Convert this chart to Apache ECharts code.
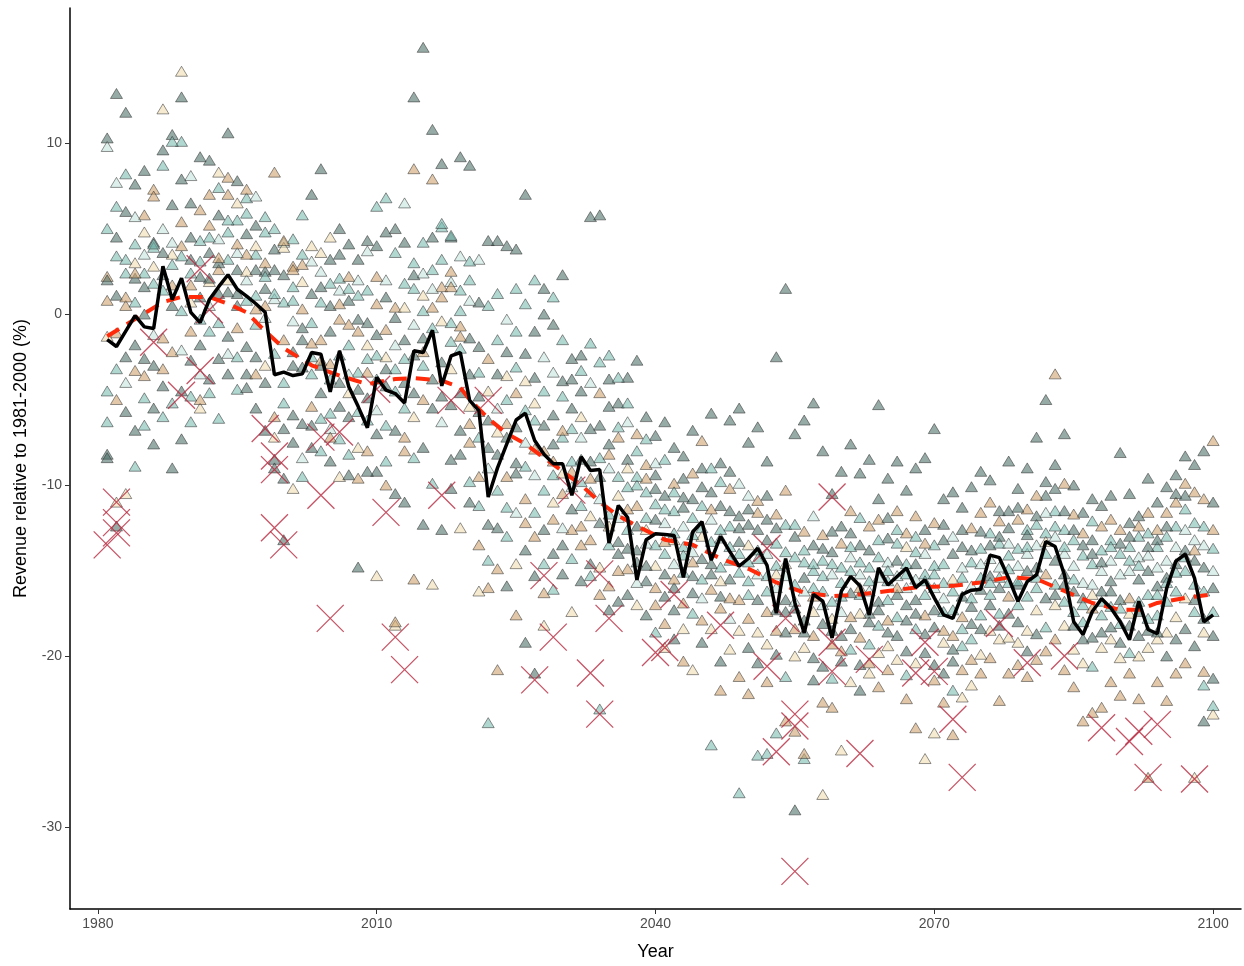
<!DOCTYPE html>
<html>
<head>
<meta charset="utf-8">
<title>Revenue relative to 1981-2000</title>
<script src="https://cdn.jsdelivr.net/npm/echarts@6/dist/echarts.min.js"></script>
<style>
  body { margin: 0; padding: 0; background: #fff; }
  #chart { width: 1244px; height: 966px; }
</style>
</head>
<body>
<div id="chart"></div>
<script>
// one row per year (1981..2100), one column per model run
const revenue = [
  [10.3, 5.0, -8.2, 2.2, 9.8, -6.3, 2.0, -1.3, -4.5, -8.4, 0.8],
  [12.9, 6.3, -12.4, -1.1, 7.7, 3.4, 1.1, -11.0, -3.2, 4.5, -5.0],
  [11.8, 3.2, -5.7, 0.5, -4.0, 8.2, -2.5, -10.5, 2.4, 6.0, 1.0],
  [2.1, 4.1, 7.6, -3.3, 5.7, -8.9, -1.8, 3.0, 0.7, -6.8, 2.4],
  [8.4, -4.9, 1.6, 5.8, 3.5, 2.4, -2.6, 4.8, -6.5, 0.0, -3.6],
  [4.2, 3.9, -5.5, 7.3, -1.2, 1.8, -7.6, 2.8, 4.1, -3.0, 6.9],
  [9.6, 8.7, 2.3, -3.2, 5.0, 1.4, -4.2, 12.0, -6.0, 3.6, -1.4],
  [10.5, 2.9, 6.4, -2.2, 4.2, 10.1, 0.5, 3.5, -5.2, -9.0, 1.7],
  [12.7, 10.1, -4.5, 5.4, -2.1, 3.4, 7.9, 14.2, 0.2, -7.3, 4.0],
  [6.5, 2.4, -2.7, -1.0, 8.1, -4.8, 3.2, 0.7, -6.3, 4.5, 1.7],
  [9.2, 4.3, 1.0, 6.1, -3.5, -0.3, 2.2, -5.5, 3.1, -1.8, -5.0],
  [9.0, -1.0, 3.6, 5.2, 0.5, 4.5, -3.8, 1.9, -4.6, 2.1, 7.0],
  [5.8, 7.4, -2.6, 2.6, 4.4, -0.5, 1.2, 8.3, -6.1, 3.0, 3.3],
  [10.6, 3.2, 1.3, 7.0, -2.3, 4.8, -3.5, 2.0, 5.5, -1.3, 8.0],
  [7.8, 5.5, 2.6, -0.8, 3.6, -4.4, 1.2, 6.5, -2.5, 0.5, 4.1],
  [4.7, 6.8, -1.9, 3.5, 2.0, 5.9, -4.3, 2.5, 0.8, -3.5, 7.3],
  [5.2, 3.5, -2.5, 0.3, 6.9, 1.1, -5.5, 4.0, -0.6, 2.6, -3.5],
  [2.5, 4.8, -6.8, 3.0, -0.2, 2.2, 1.5, -3.0, 5.7, -4.0, 0.5],
  [3.8, 5.0, -8.5, -6.0, 0.9, -2.3, 2.6, -7.2, 1.2, -9.0, 8.3],
  [2.3, -4.0, -13.2, -1.5, 4.2, 0.7, -6.7, 3.9, -5.2, -9.6, 4.3],
  [-3.0, 1.6, -7.5, 2.8, -0.4, 4.4, -5.9, -10.2, 0.8, -2.2, 2.6],
  [-1.5, 3.5, -6.4, 0.3, -8.4, 5.8, -3.1, 1.9, -9.5, -0.8, 2.9],
  [7.0, -2.5, 1.2, -5.4, 3.1, -0.5, -7.8, 4.0, -3.5, -6.5, -1.7],
  [8.5, 0.7, -4.6, -1.5, 2.5, -8.0, -3.0, 3.6, -6.1, 1.6, -2.7],
  [3.2, -5.8, 0.5, -2.9, -6.7, 1.8, -1.0, 4.5, -3.8, -8.6, -7.2],
  [5.0, 2.1, -4.0, -0.3, 1.4, -7.3, 3.5, -9.5, -2.4, -5.4, 0.6],
  [0.8, -1.8, -6.0, 2.2, -3.5, -8.2, 4.1, -4.6, 1.5, -9.4, -0.6],
  [3.2, -3.4, -14.8, -1.0, 2.0, -5.7, -0.3, -7.8, 1.1, -4.4, -9.6],
  [-0.5, 1.4, -4.9, -8.0, 3.7, -2.6, -9.2, -1.8, -6.2, 4.3, -3.4],
  [4.0, -2.4, -9.2, 0.6, -5.6, 6.3, -1.2, -15.3, -3.8, -7.0, 2.2],
  [4.8, 6.8, -4.2, -0.9, 2.0, -6.5, 1.0, -2.5, -8.6, -3.2, -10.0],
  [5.0, -3.2, -10.5, 0.4, -1.8, 3.6, -6.8, -18.2, -4.5, -0.2, -18.0],
  [4.2, 1.8, -4.0, -7.2, 6.5, -2.6, -11.0, 0.4, -5.5, -1.5, -8.0],
  [12.7, 3.0, -2.4, 8.5, -0.6, 1.5, -4.6, -6.0, -8.4, 2.3, -15.5],
  [15.6, 4.2, -1.4, -5.0, 2.4, 0.2, -12.3, 1.1, -3.0, -7.8, -2.2],
  [10.8, -0.8, 4.5, 7.9, 1.5, 2.6, -3.8, -15.8, -9.9, -5.5, 0.4],
  [8.8, 5.1, -2.8, 1.6, -6.3, 5.3, -4.8, -0.4, 3.2, -12.6, 1.0],
  [4.5, -1.6, -5.3, 2.5, 1.9, 4.6, -8.5, -3.2, -0.5, -10.2, 1.6],
  [9.2, -2.0, -6.8, -0.7, 3.4, 1.4, -4.6, -12.5, 0.2, -8.2, -1.3],
  [8.7, 2.0, -3.5, -6.4, 0.8, -9.8, -1.4, -5.4, 3.1, -11.0, -7.5],
  [0.7, -3.4, -5.7, -9.5, 3.2, -7.2, -1.9, -16.2, -11.2, -4.8, -13.5],
  [4.3, -23.9, -6.2, -2.6, -9.0, 0.5, -12.3, -4.5, -14.4, -7.8, -16.0],
  [4.3, -1.5, -8.2, -20.8, -5.5, -10.3, -3.5, -6.9, 1.2, -12.5, -14.9],
  [4.0, -5.0, -2.2, -9.5, -0.3, -13.0, -7.2, -3.6, -11.3, -15.9, -6.4],
  [3.8, -1.0, -8.7, -4.6, -11.6, 1.5, -6.6, -14.6, -3.1, -9.3, -17.6],
  [7.0, -5.6, -2.3, -10.8, -7.5, 0.6, -13.8, -3.9, -8.9, -19.2, -12.2],
  [-1.0, -6.2, -3.7, -13.0, -9.4, 2.0, -15.3, -5.2, -11.6, -21.0, -7.9],
  [1.5, -4.5, -12.6, -8.0, -2.5, -14.6, -6.5, -18.2, -10.3, 0.0, -16.3],
  [-0.6, -9.4, -5.9, -12.0, -3.4, -16.1, -7.6, -11.0, 1.0, -14.0, -8.6],
  [2.3, -7.2, -3.9, -10.5, -12.5, -4.8, -15.2, -9.3, -1.5, -13.5, -6.8],
  [-2.6, -8.6, -5.5, -12.6, -10.1, -14.3, -3.8, -17.4, -6.7, -11.4, -9.2],
  [-4.5, -9.8, -2.4, -13.5, -7.2, -11.2, -15.6, -6.0, -3.3, -8.5, -12.4],
  [5.7, -10.4, -6.7, -13.2, -4.0, -15.3, -8.6, -11.8, -1.7, -14.6, -9.6],
  [5.8, -8.4, -12.2, -4.6, -10.8, -23.1, -6.5, -14.8, -2.8, -9.5, -16.4],
  [-3.8, -11.7, -7.6, -15.9, -9.0, -13.5, -5.4, -12.4, -2.4, -17.3, -8.2],
  [-5.2, -9.5, -14.0, -7.2, -11.9, -3.7, -16.8, -10.6, -6.6, -13.3, -15.0],
  [-3.7, -12.6, -8.5, -14.9, -6.3, -10.1, -16.4, -9.0, -5.2, -13.7, -11.4],
  [-2.7, -10.0, -13.8, -7.0, -15.7, -9.5, -12.4, -17.0, -8.0, -14.5, -11.2],
  [-6.0, -11.9, -15.6, -8.8, -13.4, -10.4, -17.6, -12.6, -7.3, -14.7, -9.6],
  [-7.1, -13.5, -10.2, -16.0, -8.7, -18.6, -12.0, -14.7, -11.1, -9.4, -17.0],
  [-6.3, -14.0, -10.6, -18.1, -12.2, -8.5, -16.5, -19.5, -11.4, -15.2, -13.3],
  [-7.8, -12.8, -16.0, -9.9, -14.6, -11.5, -19.0, -13.2, -10.4, -17.3, -15.5],
  [-8.3, -13.6, -10.7, -16.9, -12.4, -15.1, -9.6, -18.4, -14.1, -11.3, -20.3],
  [-6.8, -11.9, -15.3, -9.3, -13.9, -17.5, -10.8, -20.8, -12.9, -16.3, -14.5],
  [-9.0, -12.5, -14.3, -7.4, -16.6, -11.2, -19.2, -13.0, -15.5, -10.1, -17.9],
  [-5.8, -13.3, -10.4, -16.1, -12.0, -25.2, -14.6, -18.4, -9.0, -15.2, -11.4],
  [-8.7, -14.8, -11.2, -17.2, -13.1, -9.8, -20.3, -15.6, -12.6, -16.5, -22.0],
  [-6.2, -12.4, -15.5, -10.2, -17.8, -13.6, -9.2, -19.6, -14.4, -11.5, -16.6],
  [-5.5, -14.0, -11.8, -16.7, -9.9, -28.0, -13.3, -18.5, -15.1, -12.5, -21.2],
  [-7.5, -15.6, -12.3, -17.8, -10.6, -14.5, -19.5, -13.5, -16.4, -11.4, -22.2],
  [-6.6, -13.8, -16.7, -10.9, -15.2, -25.8, -12.6, -18.6, -14.3, -20.4, -11.6],
  [-8.6, -15.3, -12.0, -17.4, -14.0, -25.7, -10.6, -19.3, -16.2, -13.2, -21.5],
  [-2.5, -14.7, -17.3, -11.7, -16.0, -13.4, -19.9, -15.2, -24.5, -12.5, -18.5],
  [1.5, -13.9, -16.7, -10.3, -15.3, -12.3, -18.6, -14.6, -21.2, -17.4, -23.8],
  [-7.0, -15.8, -13.0, -18.4, -16.8, -14.2, -29.0, -20.0, -12.3, -17.2, -24.4],
  [-6.2, -14.5, -17.9, -12.7, -16.2, -26.0, -15.4, -19.5, -13.8, -18.6, -25.7],
  [-5.2, -16.0, -13.5, -18.8, -11.8, -15.0, -21.4, -17.4, -14.6, -20.1, -16.5],
  [-8.0, -15.3, -18.1, -12.9, -17.0, -14.4, -20.6, -28.1, -16.2, -13.7, -22.7],
  [-10.5, -16.8, -13.9, -19.3, -15.2, -21.3, -12.7, -17.8, -14.6, -18.5, -23.0],
  [-9.2, -15.7, -18.8, -13.4, -17.4, -14.8, -20.3, -25.5, -16.5, -12.4, -19.7],
  [-7.6, -15.0, -12.8, -17.7, -14.2, -19.6, -16.3, -21.5, -13.6, -18.4, -11.5],
  [-9.3, -16.4, -13.5, -18.9, -15.2, -11.9, -20.5, -17.5, -14.5, -22.0, -16.0],
  [-8.5, -14.8, -17.5, -12.4, -16.2, -19.3, -13.8, -21.0, -15.6, -18.0, -20.4],
  [-5.3, -14.2, -16.8, -12.0, -15.4, -18.2, -10.8, -19.8, -13.2, -17.3, -21.8],
  [-9.6, -15.6, -13.1, -17.9, -14.5, -16.7, -11.9, -19.4, -15.0, -18.6, -20.8],
  [-8.6, -13.4, -16.4, -11.5, -15.3, -17.7, -14.4, -20.2, -12.6, -18.8, -16.0],
  [-10.3, -14.6, -17.0, -12.8, -16.0, -15.2, -19.7, -13.6, -21.1, -17.9, -22.5],
  [-9.0, -13.9, -16.7, -11.8, -15.5, -18.4, -14.6, -20.4, -13.0, -17.5, -24.2],
  [-8.4, -15.2, -12.6, -17.6, -14.0, -16.4, -19.8, -26.0, -15.6, -18.7, -13.4],
  [-6.7, -14.7, -17.3, -12.2, -16.0, -13.5, -20.5, -24.5, -15.2, -18.3, -21.4],
  [-10.8, -15.7, -13.2, -18.5, -16.6, -14.6, -21.0, -19.2, -17.4, -12.3, -22.7],
  [-10.4, -16.2, -14.0, -18.8, -13.0, -17.3, -20.3, -15.5, -22.0, -19.6, -24.6],
  [-11.3, -15.4, -13.6, -17.7, -14.8, -19.4, -16.5, -22.4, -18.4, -12.6, -20.8],
  [-10.1, -14.5, -17.1, -12.5, -15.9, -19.0, -13.8, -21.7, -16.6, -18.1, -20.2],
  [-9.2, -13.7, -16.1, -11.6, -14.6, -17.6, -12.7, -19.9, -15.4, -18.4, -21.0],
  [-9.7, -12.8, -15.3, -11.0, -14.3, -16.4, -13.5, -18.5, -15.7, -17.0, -20.1],
  [-11.5, -13.4, -16.0, -12.1, -14.8, -17.5, -13.0, -19.0, -15.4, -18.2, -22.6],
  [-8.6, -14.1, -12.5, -16.5, -13.4, -15.7, -11.5, -18.9, -14.9, -17.5, -21.0],
  [-10.2, -13.7, -15.8, -12.0, -14.7, -17.0, -11.3, -19.2, -15.6, -18.0, -20.5],
  [-9.0, -12.6, -15.0, -11.4, -14.0, -16.5, -12.9, -18.5, -13.6, -19.7, -21.2],
  [-7.2, -12.3, -14.8, -10.6, -13.5, -16.0, -11.8, -17.3, -15.4, -18.7, -20.2],
  [-5.0, -12.8, -10.6, -15.2, -11.6, -14.0, -16.6, -13.3, -18.3, -9.8, -19.7],
  [-8.8, -11.5, -14.4, -3.5, -13.0, -15.8, -10.2, -17.0, -12.4, -16.4, -19.0],
  [-7.0, -12.6, -15.2, -9.9, -14.0, -16.8, -11.5, -18.2, -13.6, -15.8, -20.8],
  [-10.0, -13.2, -16.2, -11.7, -14.7, -17.4, -12.6, -19.6, -15.5, -18.2, -21.8],
  [-11.6, -14.1, -16.6, -12.8, -15.7, -18.0, -13.5, -20.4, -17.0, -19.0, -23.8],
  [-10.8, -14.6, -13.2, -17.2, -15.8, -12.1, -18.9, -16.4, -20.6, -14.0, -23.3],
  [-11.2, -13.8, -16.2, -12.4, -15.0, -17.6, -14.5, -19.5, -16.8, -18.6, -23.0],
  [-10.6, -13.2, -15.6, -12.0, -14.4, -17.1, -16.2, -19.0, -13.6, -18.3, -21.5],
  [-8.1, -14.0, -16.7, -12.6, -15.2, -18.1, -13.4, -20.1, -17.2, -19.2, -22.3],
  [-10.5, -13.6, -12.2, -16.6, -15.0, -14.4, -18.2, -17.5, -19.8, -13.0, -21.0],
  [-11.8, -13.0, -15.5, -12.4, -14.2, -16.8, -17.4, -20.0, -14.7, -18.8, -22.5],
  [-9.6, -12.8, -15.0, -11.6, -14.1, -16.4, -13.6, -19.5, -17.8, -18.5, -27.1],
  [-11.0, -13.6, -15.9, -12.6, -14.8, -17.6, -13.2, -19.0, -16.4, -18.6, -21.5],
  [-10.1, -13.0, -15.4, -11.6, -14.4, -16.8, -12.4, -18.6, -15.7, -20.0, -22.6],
  [-9.4, -12.4, -14.6, -11.0, -13.6, -16.2, -10.5, -17.7, -15.1, -19.0, -21.0],
  [-8.3, -11.4, -13.8, -9.9, -12.6, -15.0, -10.6, -16.6, -14.2, -18.4, -20.4],
  [-8.8, -12.2, -14.4, -10.4, -13.2, -15.8, -16.7, -27.1, -17.4, -19.4, -13.8],
  [-8.0, -12.4, -14.8, -10.8, -13.5, -16.2, -17.8, -18.6, -21.7, -23.8, -20.9],
  [-11.0, -13.7, -16.0, -12.6, -15.0, -17.4, -18.8, -23.4, -22.9, -21.3, -7.4]
];

// fill colour of each model column
const modelColors = [
  'rgba(72,108,100,0.72)',  // dark slate
  'rgba(120,185,175,0.72)', // teal
  'rgba(72,108,100,0.72)',
  'rgba(205,160,105,0.72)', // tan
  'rgba(195,228,220,0.72)', // pale mint
  'rgba(120,185,175,0.72)',
  'rgba(72,108,100,0.72)',
  'rgba(240,220,175,0.72)', // cream
  'rgba(120,185,175,0.72)',
  'rgba(72,108,100,0.72)',
  'rgba(205,160,105,0.72)'
];

// annual ensemble mean (black line), 1981..2100
const meanLine = [
  -1.5, -1.9, -1.0, -0.1, -0.75, -0.85, 2.8, 0.85, 2.1, 0.1,
  -0.5, 0.85, 1.6, 2.3, 1.45, 1.05, 0.6, 0.1, -3.55, -3.4,
  -3.6, -3.5, -2.25, -2.35, -4.55, -2.15, -4.25, -5.4, -6.65, -3.7,
  -4.45, -4.65, -5.2, -2.15, -2.25, -0.95, -4.2, -2.45, -2.25, -5.05,
  -5.65, -10.7, -9.0, -7.6, -6.2, -5.8, -7.4, -8.2, -8.75, -8.75,
  -10.6, -8.35, -9.15, -9.1, -13.4, -11.2, -11.9, -15.55, -13.2, -12.85,
  -12.9, -12.95, -15.4, -12.75, -12.15, -14.4, -13.0, -13.9, -14.75, -14.3,
  -13.7, -14.7, -17.5, -14.3, -16.9, -18.65, -16.4, -16.8, -18.95, -16.2,
  -15.35, -15.9, -17.6, -14.85, -15.85, -15.35, -14.85, -16.0, -15.55, -16.6,
  -17.6, -17.8, -16.4, -16.15, -16.1, -14.1, -14.25, -15.45, -16.8, -15.65,
  -15.25, -13.3, -13.6, -15.25, -18.0, -18.75, -17.4, -16.65, -17.2, -18.0,
  -19.05, -16.8, -18.45, -18.7, -16.05, -14.45, -14.05, -15.45, -18.0, -17.6
];

// smoothed trend (red dashed line)
const trendYears = [1981, 1984, 1987, 1989, 1992, 1994, 1996, 1998, 2000, 2003, 2006, 2009,
  2012, 2014, 2017, 2019, 2020, 2022, 2024, 2026, 2028, 2030, 2032, 2034, 2036, 2038, 2041,
  2044, 2047, 2050, 2053, 2056, 2059, 2062, 2065, 2068, 2072, 2075, 2078, 2081, 2084, 2087,
  2090, 2092, 2094, 2097, 2100];
const trendVals = [-1.3, -0.3, 0.7, 1.0, 1.0, 0.6, 0.1, -1.0, -2.0, -3.0, -3.6, -4.1,
  -3.8, -3.75, -3.9, -4.3, -5.0, -6.1, -7.0, -7.6, -8.4, -9.2, -10.0, -11.0, -11.8, -12.4, -13.2,
  -13.5, -14.3, -14.9, -15.7, -16.3, -16.5, -16.4, -16.2, -16.0, -15.9, -15.7, -15.4, -15.5, -16.2, -16.9,
  -17.3, -17.3, -16.9, -16.6, -16.4];

// years flagged as extreme losses (red crosses)
const extremeYears = [1981, 1982, 1982, 1982, 1986, 1989, 1991, 1991, 1992, 1998, 1999, 1999, 1999, 2000,
  2004, 2004, 2005, 2006, 2010, 2011, 2012, 2013, 2017, 2018, 2022, 2027, 2028, 2029, 2031, 2033,
  2034, 2034, 2035, 2040, 2041, 2042, 2047, 2052, 2052, 2053, 2054, 2055, 2055, 2055, 2059, 2059,
  2059, 2062, 2063, 2068, 2069, 2070, 2072, 2073, 2077, 2080, 2084, 2088, 2091, 2092, 2093, 2094, 2098];
const extremeVals = [-13.5, -11.0, -12.2, -12.8, -1.65, -4.75, 2.65, -3.3, 0.25, -6.7, -8.3, -9.1, -12.5, -13.5,
  -7.2, -10.6, -17.8, -6.9, -4.4, -11.6, -18.9, -20.8, -10.6, -5.05, -5.05, -21.4, -15.3, -18.9, -10.3, -21.0,
  -15.2, -23.4, -17.8, -19.8, -19.5, -16.4, -18.2, -13.7, -20.6, -25.6, -17.8, -23.4, -24.1, -32.6, -10.7, -19.2,
  -20.9, -25.7, -20.2, -21.0, -19.2, -20.9, -23.7, -27.1, -18.1, -20.4, -20.0, -24.2, -25.0, -24.4, -27.1, -24.0, -27.2];

const xTicks = [1980, 2010, 2040, 2070, 2100];
const yTicks = [-30, -20, -10, 0, 10];

const years = revenue.map((_, i) => 1981 + i);

const series = [];
modelColors.forEach((col, m) => {
  series.push({
    type: 'scatter',
    symbol: 'triangle',
    symbolSize: [12, 10],
    z: 2,
    itemStyle: { color: col, borderColor: 'rgba(40,40,40,0.7)', borderWidth: 0.9 },
    data: years.map((y, i) => [y, revenue[i][m]])
  });
});
series.push({
  type: 'scatter',
  symbol: 'path://M0,0L20,20M20,0L0,20',
  symbolSize: 27,
  z: 3,
  itemStyle: { color: 'rgba(0,0,0,0)', borderColor: '#b8283e', borderWidth: 1.3 },
  data: extremeYears.map((y, i) => [y, extremeVals[i]])
});
series.push({
  type: 'line',
  z: 4,
  symbol: 'none',
  lineStyle: { color: '#ff2a0a', width: 4, type: [14, 9] },
  data: trendYears.map((y, i) => [y, trendVals[i]])
});
series.push({
  type: 'line',
  z: 5,
  symbol: 'none',
  lineStyle: { color: '#000', width: 3.5 },
  data: years.map((y, i) => [y, meanLine[i]])
});

const chart = echarts.init(document.getElementById('chart'));
chart.setOption({
  animation: false,
  backgroundColor: '#fff',
  textStyle: { fontFamily: 'Liberation Sans, Arial, sans-serif' },
  grid: { left: 70, right: 3, top: 8, bottom: 54 },
  xAxis: {
    type: 'value',
    min: 1977,
    max: 2103,
    name: 'Year',
    nameLocation: 'middle',
    nameGap: 34,
    nameTextStyle: { fontSize: 18, color: '#000' },
    splitLine: { show: false },
    axisLine: { onZero: false, lineStyle: { color: '#000', width: 1.5 } },
    axisTick: { length: 5, lineStyle: { color: '#333' }, customValues: xTicks },
    axisLabel: { color: '#4d4d4d', fontSize: 14, margin: 8, customValues: xTicks, formatter: v => String(v) }
  },
  yAxis: {
    type: 'value',
    min: -34.8,
    max: 17.9,
    name: 'Revenue relative to 1981-2000 (%)',
    nameLocation: 'middle',
    nameGap: 40,
    nameTextStyle: { fontSize: 18, color: '#000' },
    splitLine: { show: false },
    axisLine: { show: true, onZero: false, lineStyle: { color: '#000', width: 1.5 } },
    axisTick: { show: true, length: 5, lineStyle: { color: '#333' }, customValues: yTicks },
    axisLabel: { color: '#4d4d4d', fontSize: 14, margin: 8, customValues: yTicks }
  },
  series: series
});
</script>
</body>
</html>
